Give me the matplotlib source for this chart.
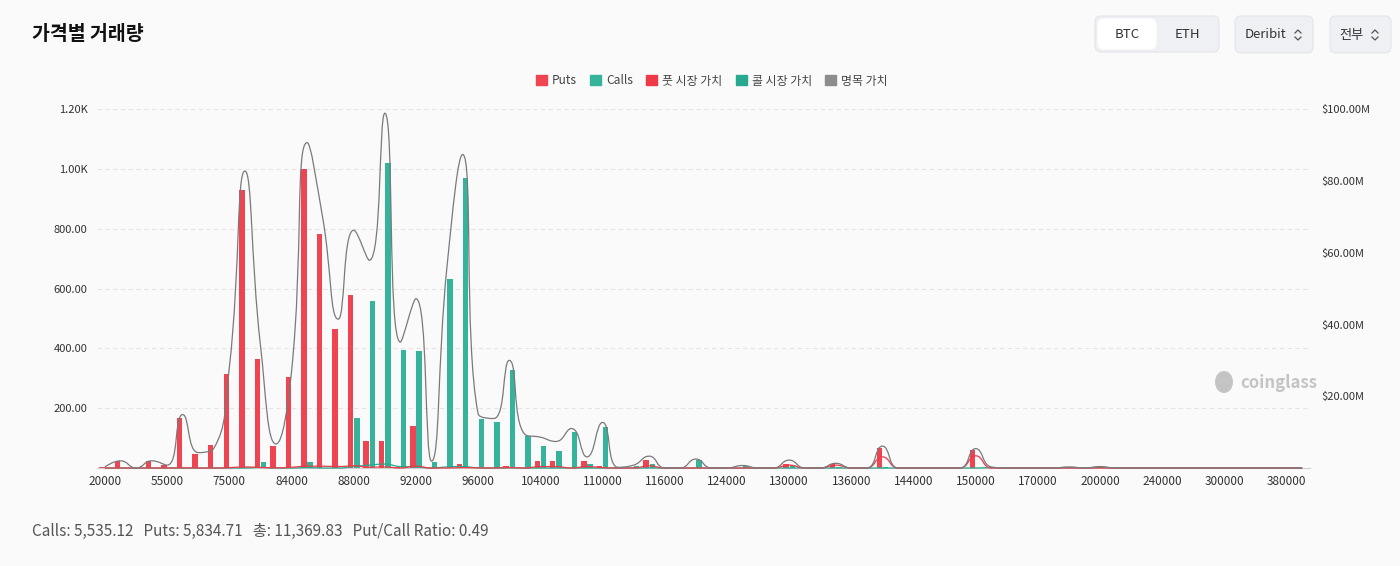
import matplotlib
matplotlib.use('Agg')
import matplotlib.pyplot as plt
import numpy as np
from matplotlib.path import Path
from matplotlib.patches import PathPatch, FancyBboxPatch, Patch, Ellipse

plt.rcParams['font.family'] = ['Noto Sans CJK KR', 'DejaVu Sans']

# strike price categories (label every 4th)
strikes = [20000, 30000, 40000, 50000, 55000, 60000, 65000, 70000, 75000, 78000,
           80000, 82000, 84000, 85000, 86000, 87000, 88000, 89000, 90000, 91000,
           92000, 93000, 94000, 95000, 96000, 98000, 100000, 102000, 104000, 105000,
           106000, 108000, 110000, 112000, 114000, 115000, 116000, 118000, 120000, 122000,
           124000, 125000, 126000, 128000, 130000, 132000, 134000, 135000, 136000, 138000,
           140000, 142000, 144000, 145000, 146000, 148000, 150000, 155000, 160000, 165000,
           170000, 175000, 180000, 190000, 200000, 210000, 220000, 230000, 240000, 250000,
           260000, 280000, 300000, 320000, 340000, 360000, 380000, 400000]

puts = [3, 22, 0, 22, 9, 167, 48, 77, 316, 930,
        364, 75, 303, 1000, 784, 466, 578, 91, 91, 2,
        139, 0, 0, 13, 5, 0, 8, 0, 25, 25,
        0, 22, 6, 0, 0, 27, 0, 0, 0, 0,
        0, 0, 0, 0, 14, 0, 0, 13, 0, 0,
        67, 0, 0, 0, 0, 0, 61, 0, 0, 0,
        0, 0, 0, 0, 0, 0, 0, 0, 0, 0,
        0, 0, 0, 0, 0, 0, 0, 0]

calls = [0, 0, 0, 0, 0, 0, 0, 0, 0, 0,
         20, 0, 0, 19, 0, 0, 167, 559, 1020, 394,
         391, 21, 633, 969, 165, 155, 329, 106, 72, 57,
         122, 12, 137, 2, 8, 14, 0, 0, 28, 0,
         0, 8, 0, 0, 11, 0, 0, 2, 0, 0,
         2, 0, 0, 0, 0, 0, 0, 4, 0, 0,
         0, 0, 3, 0, 4, 0, 0, 0, 0, 0,
         0, 0, 0, 0, 0, 0, 0, 0]

# market / notional values in $M
put_mv = [0, 0, 0, 0, 0, 0.05, 0, 0, 0.1, 0.3,
          0.15, 0.05, 0.2, 0.5, 0.5, 0.4, 0.6, 0.2, 0.3, 0,
          0.5, 0, 0, 0.1, 0.05, 0, 0.1, 0, 0.4, 0.4,
          0, 0.4, 0.1, 0, 0, 0.6, 0, 0, 0, 0,
          0, 0, 0, 0, 0.8, 0, 0, 0.8, 0, 0,
          3.1, 0, 0, 0, 0, 0, 3.4, 0, 0, 0,
          0, 0, 0, 0, 0, 0, 0, 0, 0, 0,
          0, 0, 0, 0, 0, 0, 0, 0]

call_mv = [0, 0, 0, 0, 0, 0, 0, 0, 0, 0,
           0.15, 0, 0, 0.1, 0, 0, 0.4, 0.8, 1.1, 0.4,
           0.3, 0, 0.3, 0.4, 0.05, 0, 0.05, 0, 0, 0,
           0, 0, 0, 0, 0, 0, 0, 0, 0, 0,
           0, 0, 0, 0, 0, 0, 0, 0, 0, 0,
           0, 0, 0, 0, 0, 0, 0, 0.1, 0, 0,
           0, 0, 0.1, 0, 0.15, 0, 0, 0, 0, 0,
           0, 0, 0, 0, 0, 0, 0, 0]

notional = [0.3, 2.0, 0, 2.0, 0.8, 14.9, 4.3, 5.5, 28.1, 82.8,
            34.2, 6.7, 27.0, 90.7, 69.8, 41.5, 66.3, 57.9, 98.9, 35.1,
            47.2, 1.9, 56.3, 87.4, 15.1, 13.8, 30.0, 9.4, 8.6, 7.4,
            11.0, 3.1, 12.7, 0.2, 0.8, 3.3, 0, 0, 2.5, 0,
            0, 0.7, 0, 0, 2.2, 0, 0, 1.3, 0, 0,
            6.1, 0, 0, 0, 0, 0, 5.4, 0.3, 0, 0,
            0, 0, 0.3, 0, 0.4, 0, 0, 0, 0, 0,
            0, 0, 0, 0, 0, 0, 0, 0]

summary = "Calls: 5,535.12   Puts: 5,834.71   총: 11,369.83   Put/Call Ratio: 0.49"

RED = '#ef4452'
GREEN = '#35b39b'
RED_LINE = '#ee3a48'
GREEN_LINE = '#26a98f'
GRAY_LINE = '#7a7a7a'
BG = '#fafafa'
W, H = 1400, 566


def smooth_path(ax, xs, ys, smooth=0.5):
    # echarts-like smoothing of a line, done in pixel space
    pts = ax.transData.transform(np.column_stack([xs, ys]))
    n = len(pts)
    verts = [tuple(pts[0])]
    codes = [Path.MOVETO]
    cp0 = pts[0]
    prev = pts[0]
    for i in range(1, n):
        x, y = pts[i]
        px, py = prev
        if i + 1 >= n:
            cp1 = (x, y)
            ncp = (x, y)
        else:
            nx, ny = pts[i + 1]
            vx, vy = nx - px, ny - py
            l0 = np.hypot(x - px, y - py)
            l1 = np.hypot(nx - x, ny - y)
            r = l1 / (l0 + l1)
            ncx = x + vx * smooth * r
            ncy = y + vy * smooth * r
            ncx = max(min(ncx, max(nx, x)), min(nx, x))
            ncy = max(min(ncy, max(ny, y)), min(ny, y))
            vx, vy = ncx - x, ncy - y
            c1x = x - vx * l0 / l1
            c1y = y - vy * l0 / l1
            c1x = max(min(c1x, max(px, x)), min(px, x))
            c1y = max(min(c1y, max(py, y)), min(py, y))
            vx, vy = x - c1x, y - c1y
            ncp = (x + vx * l1 / l0, y + vy * l1 / l0)
            cp1 = (c1x, c1y)
        verts += [tuple(cp0), tuple(cp1), (x, y)]
        codes += [Path.CURVE4] * 3
        cp0 = ncp
        prev = (x, y)
    data_verts = ax.transData.inverted().transform(np.array(verts))
    return Path(data_verts, codes)


fig = plt.figure(figsize=(W / 100, H / 100), dpi=100, facecolor=BG)

# page decoration layer in pixel coordinates
ui = fig.add_axes([0, 0, 1, 1], zorder=-1)
ui.set_xlim(0, W)
ui.set_ylim(H, 0)
ui.axis('off')

def box(x0, y0, x1, y1, fc, ec='#e3e5e8'):
    ui.add_patch(FancyBboxPatch((x0, y0), x1 - x0, y1 - y0,
                                boxstyle='round,pad=0,rounding_size=6',
                                fc=fc, ec=ec, lw=0.8))

def chevrons(cx, cy):
    ui.plot([cx - 3, cx, cx + 3], [cy - 2, cy - 5, cy - 2], color='#555', lw=0.9)
    ui.plot([cx - 3, cx, cx + 3], [cy + 2, cy + 5, cy + 2], color='#555', lw=0.9)

box(1095, 16, 1219, 52, '#eef0f3')
box(1098, 19, 1156, 49, 'white', ec='white')
ui.text(1127, 35, 'BTC', ha='center', va='center', fontsize=9.5, color='#333')
ui.text(1187, 35, 'ETH', ha='center', va='center', fontsize=9.5, color='#333')
box(1235, 16, 1313, 53, '#eef0f3')
ui.text(1245, 35, 'Deribit', ha='left', va='center', fontsize=9.5, color='#333')
chevrons(1298, 35)
box(1330, 16, 1391, 53, '#eef0f3')
ui.text(1339, 35, '전부', ha='left', va='center', fontsize=9.5, color='#333')
chevrons(1375, 35)

ui.text(32, 35, '가격별 거래량', ha='left', va='center', fontsize=14,
        fontweight='heavy', color='#111')
ui.text(32, 531, summary, ha='left', va='center', fontsize=11, color='#555')

# watermark
ui.add_patch(Ellipse((1224, 382), 18, 22, fc='#c4c4c4', ec='none'))
ui.text(1240, 383, 'coinglass', ha='left', va='center', fontsize=12,
        fontweight='bold', color='#c4c4c4')

# chart
ax = fig.add_axes([97.2 / W, (H - 468) / H, 1212.8 / W, 358.7 / H])
ax.set_facecolor('none')
x = np.arange(len(strikes))
ax.bar(x - 0.2, puts, width=0.35, color=RED, zorder=2)
ax.bar(x + 0.2, calls, width=0.35, color=GREEN, zorder=2)
ax.set_xlim(-0.5, len(strikes) - 0.5)
ax.set_ylim(0, 1200)

left_ticks = [200, 400, 600, 800, 1000, 1200]
ax.set_yticks(left_ticks)
ax.set_yticklabels([f'{v / 1000:.2f}K' if v >= 1000 else f'{v:.2f}' for v in left_ticks])
ax.set_xticks(x[::4])
ax.set_xticklabels([str(s) for s in strikes[::4]])
ax.tick_params(axis='x', length=0, pad=5, labelsize=8.5, colors='#333')
ax.tick_params(axis='y', length=0, pad=7, labelsize=8, colors='#333')
ax.grid(axis='y', color='#e4e4e4', lw=0.8, ls=(0, (4, 3)), zorder=0)
for s in ['top', 'left', 'right']:
    ax.spines[s].set_visible(False)
ax.spines['bottom'].set_color('#cfcfcf')

ax2 = ax.twinx()
ax2.set_ylim(0, 100)
ax2.set_xlim(ax.get_xlim())
right_ticks = [20, 40, 60, 80, 100]
ax2.set_yticks(right_ticks)
ax2.set_yticklabels([f'${v:.2f}M' for v in right_ticks])
ax2.tick_params(axis='y', length=0, pad=8, labelsize=8, colors='#333')
for s in ['top', 'left', 'right', 'bottom']:
    ax2.spines[s].set_visible(False)

for vals, col in [(call_mv, GREEN_LINE), (put_mv, RED_LINE), (notional, GRAY_LINE)]:
    p = smooth_path(ax2, x, vals)
    ax2.add_patch(PathPatch(p, fill=False, ec=col, lw=0.9, clip_on=False))

handles = [Patch(color=RED, label='Puts'), Patch(color=GREEN, label='Calls'),
           Patch(color=RED_LINE, label='풋 시장 가치'),
           Patch(color=GREEN_LINE, label='콜 시장 가치'),
           Patch(color='#8c8c8c', label='명목 가치')]
fig.legend(handles=handles, loc='center', bbox_to_anchor=(712 / W, 1 - 81 / H),
           ncol=5, frameon=False, fontsize=8.6, handlelength=0.9, handleheight=0.9,
           handletextpad=0.45, columnspacing=1.1, labelcolor='#444')

fig.savefig('out.png', dpi=100, facecolor=BG)
